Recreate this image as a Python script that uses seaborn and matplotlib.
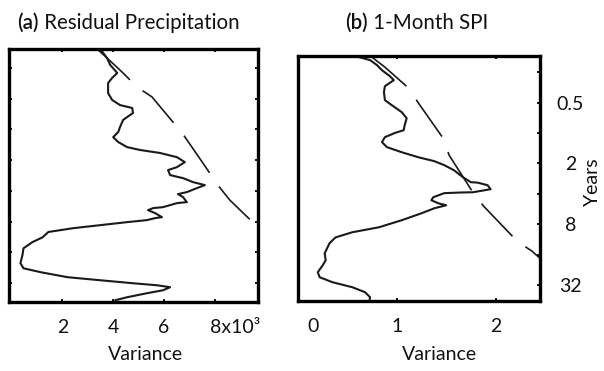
import matplotlib
matplotlib.use("Agg")
import matplotlib.pyplot as plt
import matplotlib.transforms as mtransforms
import pandas as pd
import seaborn as sns

# (a) residual precipitation: global wavelet spectrum, variance in 10^3
resid_var = [3.49, 3.76, 3.88, 4.16, 3.96, 3.80, 3.80, 3.96, 4.27, 4.75, 4.78, 4.55,
             4.39, 4.27, 4.20, 4.00, 4.20, 4.55, 5.06, 5.84, 6.51, 6.82, 6.51, 6.16,
             6.24, 6.75, 7.14, 7.61, 7.29, 6.90, 6.55, 6.75, 6.90, 6.51, 5.96, 5.57,
             5.37, 5.65, 5.92, 5.65, 5.33, 4.55, 3.49, 2.43, 1.45, 1.22, 0.82, 0.47,
             0.43, 0.35, 0.47, 1.14, 2.20, 3.49, 4.78, 5.73, 6.24, 5.96, 5.33, 4.55, 4.08]
resid_period = [0.163, 0.200, 0.233, 0.280, 0.313, 0.351, 0.440, 0.515, 0.577, 0.617,
                0.691, 0.756, 0.809, 0.947, 1.06, 1.19, 1.33, 1.49, 1.59, 1.70, 1.87,
                2.09, 2.34, 2.50, 2.80, 3.00, 3.28, 3.51, 3.76, 4.11, 4.30, 4.60, 5.15,
                5.27, 5.77, 5.90, 6.17, 6.60, 7.23, 7.39, 7.73, 8.09, 8.66, 9.27, 10.1,
                11.4, 12.7, 14.6, 17.0, 20.4, 22.9, 25.0, 28.0, 30.0, 32.1, 33.6, 35.1,
                37.6, 40.2, 44.0, 47.1]
resid_sig_var = [3.37, 3.76, 4.35, 4.94, 5.53, 6.12, 6.71, 7.10, 7.61, 8.12, 8.59, 9.49, 9.76]
resid_sig_period = [0.163, 0.200, 0.274, 0.384, 0.481, 0.722, 1.08, 1.49, 2.28, 3.51,
                    4.92, 8.09, 9.27]

# (b) 1-month SPI
spi_var = [0.62, 0.73, 0.80, 0.85, 0.93, 0.97, 0.88, 0.87, 0.88, 0.95, 1.05, 1.10,
           1.08, 1.07, 0.98, 0.88, 0.85, 0.90, 1.05, 1.22, 1.38, 1.48, 1.58, 1.67,
           1.75, 1.82, 1.92, 1.95, 1.77, 1.65, 1.48, 1.37, 1.35, 1.42, 1.50, 1.38,
           1.25, 1.05, 0.82, 0.55, 0.38, 0.32, 0.27, 0.28, 0.25, 0.20, 0.22, 0.35,
           0.55, 0.68, 0.73, 0.72]
spi_period = [0.178, 0.190, 0.213, 0.239, 0.274, 0.300, 0.344, 0.394, 0.473, 0.531,
              0.622, 0.714, 0.837, 0.938, 1.00, 1.10, 1.23, 1.38, 1.55, 1.74, 1.90,
              2.08, 2.34, 2.74, 3.07, 3.10, 3.29, 3.60, 3.86, 3.88, 3.94, 4.32, 4.63,
              4.96, 5.19, 5.56, 6.23, 7.30, 8.57, 9.60, 10.8, 12.3, 15.5, 18.2, 20.4,
              23.9, 26.8, 30.0, 33.6, 37.7, 42.3, 47.4]
spi_sig_var = [0.75, 0.88, 1.12, 1.22, 1.47, 1.53, 1.77, 1.88, 2.22, 2.37, 2.45, 2.52]
spi_sig_period = [0.178, 0.223, 0.360, 0.507, 1.13, 1.66, 3.86, 5.31, 11.8, 14.8, 17.4, 20.4]

period_ticks = [0.25, 0.5, 1, 2, 4, 8, 16, 32]
period_labels = ["", "0.5", "", "2", "", "8", "", "32"]
resid_xticks = [2, 4, 6, 8]
resid_xlabels = ["2", "4", "6", "8x10³"]
spi_xticks = [0, 1, 2]
spi_xlabels = ["0", "1", "2"]

sns.set_theme(style="white")
plt.rcParams["font.family"] = ["Lato", "DejaVu Sans"]

W, H = 604, 371
fig = plt.figure(figsize=(W / 100, H / 100), dpi=100)
txt = "#111111"
fs_tick, fs_lab, fs_title = 14, 14, 14.8


def px_axes(x0, x1, y0, y1):
    return fig.add_axes([x0 / W, 1 - y1 / H, (x1 - x0) / W, (y1 - y0) / H])


ax_a = px_axes(9, 258, 49, 302)
ax_b = px_axes(298, 540, 56, 301)

line_col = "#1a1a1a"
dash = (0, (27, 10))

panels = [
    (ax_a, resid_var, resid_period, resid_sig_var, resid_sig_period, (-0.1, 9.7), (49, 0.163)),
    (ax_b, spi_var, spi_period, spi_sig_var, spi_sig_period, (0.03, 2.45), (46, 0.173)),
]
for ax, v, p, sv, sp, xlim, ylim in panels:
    gws = pd.DataFrame({"variance": v, "period": p})
    sig = pd.DataFrame({"variance": sv, "period": sp})
    sns.lineplot(data=gws, x="variance", y="period", sort=False, estimator=None,
                 color=line_col, lw=1.5, ax=ax)
    sns.lineplot(data=sig, x="variance", y="period", sort=False, estimator=None,
                 color=line_col, lw=1.2, linestyle=dash, ax=ax)
    ax.set_yscale("log", base=2)
    ax.set_xlim(*xlim)
    ax.set_ylim(*ylim)
    ax.set_xlabel("")
    ax.set_ylabel("")
    ax.set_yticks(period_ticks)
    ax.minorticks_off()
    for s in ax.spines.values():
        s.set_color("black")
        s.set_linewidth(2.4)
    ax.set_facecolor("white")

# (a) ticks
ax_a.set_xticks(resid_xticks)
ax_a.set_xticklabels(resid_xlabels)
ax_a.set_yticklabels([""] * len(period_ticks))
ax_a.tick_params(axis="both", direction="in", length=2.5, width=1.3, color="black",
                 top=True, bottom=True, left=True, right=True)
ax_a.tick_params(axis="x", labelsize=fs_tick, pad=12, labelcolor=txt)
ax_a.tick_params(axis="y", labelleft=False)
last = ax_a.get_xticklabels()[-1]
last.set_horizontalalignment("left")
last.set_transform(last.get_transform() + mtransforms.ScaledTranslation(-5 / 100, 0, fig.dpi_scale_trans))

# (b) ticks
ax_b.set_xticks(spi_xticks)
ax_b.set_xticklabels(spi_xlabels)
ax_b.set_yticklabels(period_labels)
ax_b.tick_params(axis="both", direction="in", length=2.5, width=1.3, color="black",
                 top=True, bottom=True, left=False, right=True)
ax_b.tick_params(axis="x", labelsize=fs_tick, pad=12, labelcolor=txt)
ax_b.tick_params(axis="y", labelleft=False, labelright=True, labelsize=fs_tick, pad=22,
                 labelcolor=txt)
for lab in ax_b.get_yticklabels():
    lab.set_horizontalalignment("center")
zero = ax_b.get_xticklabels()[0]
zero.set_transform(zero.get_transform() + mtransforms.ScaledTranslation(15 / 100, 0, fig.dpi_scale_trans))

# axis titles
fig.text(145 / W, 1 - 355 / H, "Variance", ha="center", va="center", fontsize=fs_lab, color=txt)
fig.text(440 / W, 1 - 354 / H, "Variance", ha="center", va="center", fontsize=fs_lab, color=txt)
fig.text(593 / W, 1 - 182 / H, "Years", ha="center", va="center", rotation=90,
         fontsize=fs_lab, color=txt)

# panel titles: bold tag + plain text
fig.canvas.draw()
rend = fig.canvas.get_renderer()
for x0, tag, name in [(17, "(a)", " Residual Precipitation"), (345, "(b)", " 1-Month SPI")]:
    t = fig.text(x0 / W, 1 - 23 / H, tag, ha="left", va="center", fontsize=fs_title,
                 fontweight="semibold", color=txt)
    bb = t.get_window_extent(rend)
    fig.text(bb.x1 / W, 1 - 23 / H, name, ha="left", va="center", fontsize=fs_title,
             color=txt)

fig.savefig("out.png", dpi=100, facecolor="white")
